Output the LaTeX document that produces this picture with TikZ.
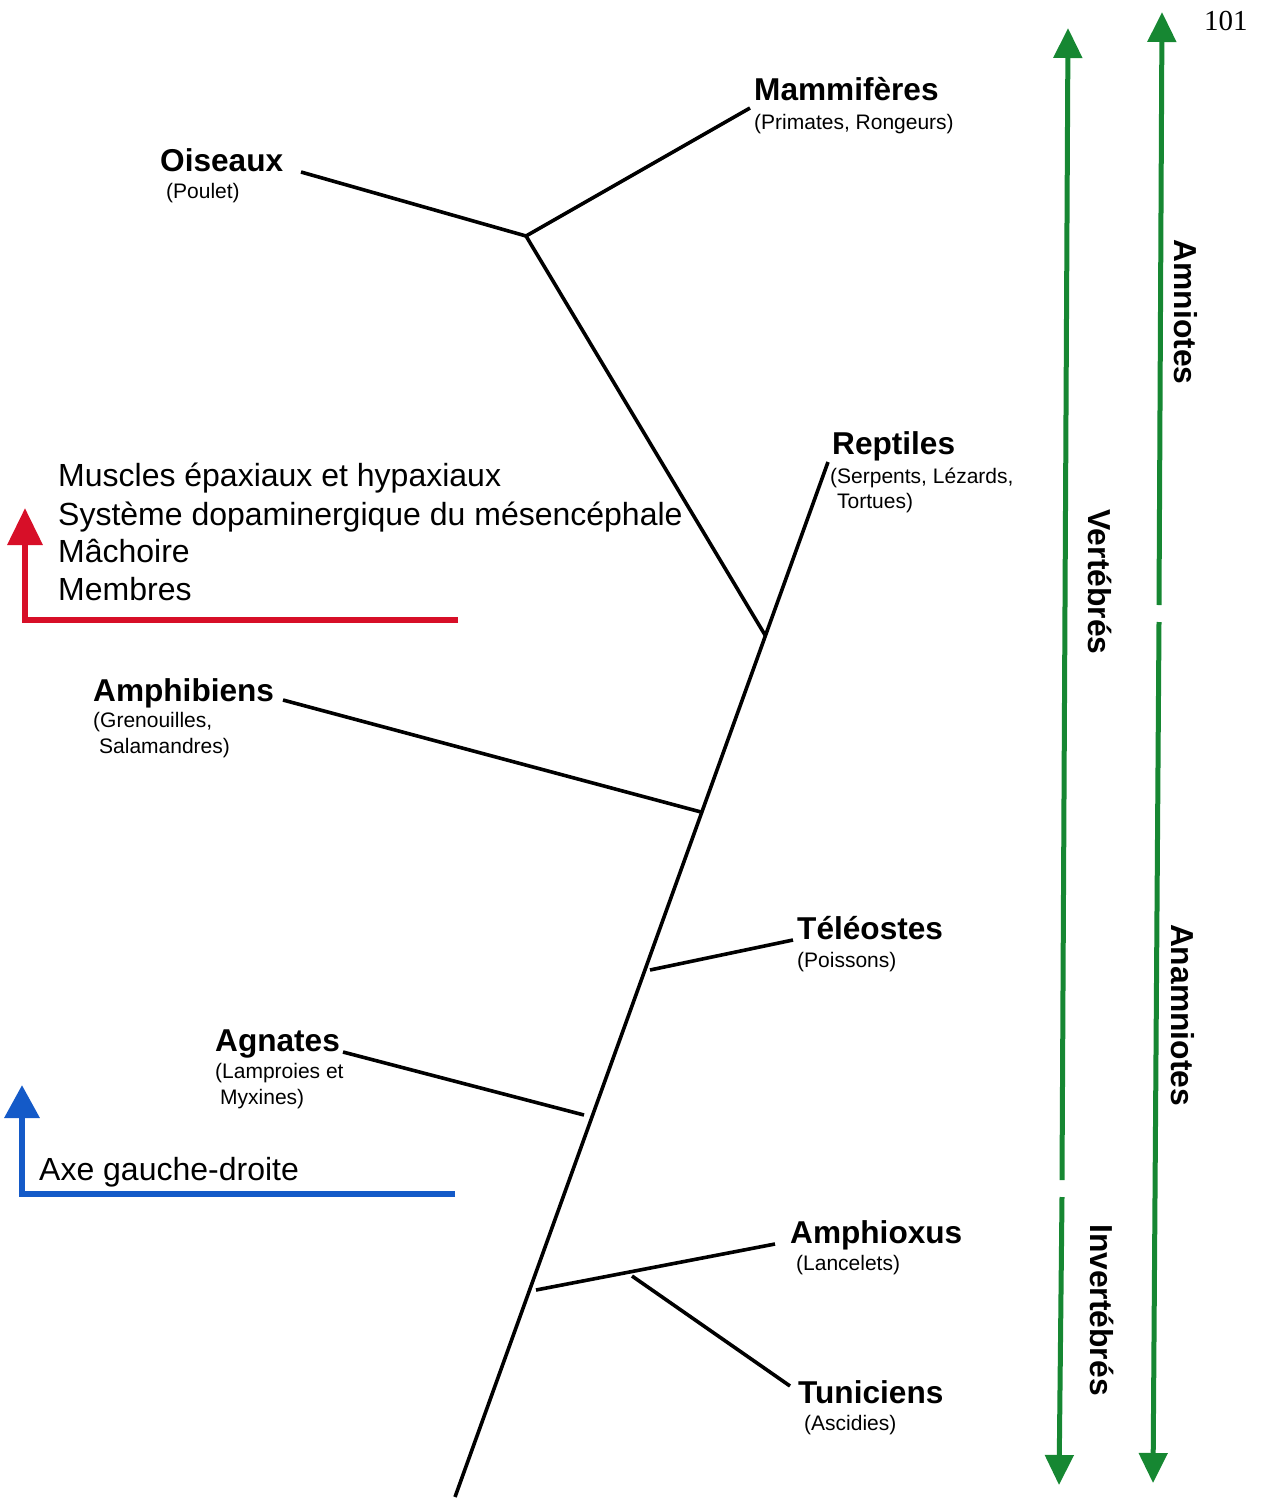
\documentclass[tikz,border=0pt]{standalone}
\usepackage{fontspec}
\setmainfont{Liberation Sans}
\newfontfamily\pagenumfont{Liberation Serif}
\usetikzlibrary{arrows.meta}
\definecolor{gr}{RGB}{22,135,50}
\definecolor{rd}{RGB}{215,15,40}
\definecolor{bl}{RGB}{20,90,200}
\begin{document}
\begin{tikzpicture}[x=1pt,y=-1pt,
  branch/.style={line width=3.6pt,black},
  taxon/.style={anchor=base west,inner sep=0pt,font=\fontsize{31.6}{36}\selectfont\bfseries},
  sub/.style={anchor=base west,inner sep=0pt,font=\fontsize{21}{26}\selectfont},
  trait/.style={anchor=base west,inner sep=0pt,font=\fontsize{32}{38}\selectfont},
  grp/.style={inner sep=0pt,rotate=-90,font=\fontsize{31.8}{36}\selectfont\bfseries},
  garrow/.style={line width=5pt,gr,-{Triangle[width=28pt,length=30pt]}},
]
\useasboundingbox (0,0) rectangle (1262,1501);
% tree coordinates
\coordinate (tb) at (455,1497);
\coordinate (tt) at (828,462);
\coordinate (j1) at (765,635);
\coordinate (j0) at (526,236);
\coordinate (ois) at (301,172);
\coordinate (mam) at (750,108);
\coordinate (amphA) at (283,700);
\coordinate (amphB) at (701,812);
\coordinate (telA) at (650,970);
\coordinate (telB) at (793,940);
\coordinate (agnA) at (343,1052);
\coordinate (agnB) at (584,1115);
\coordinate (aoxA) at (536,1290);
\coordinate (aoxB) at (775,1244);
\coordinate (tunA) at (632,1276);
\coordinate (tunB) at (790,1386);
% tree
\draw[branch] (tb) -- (tt);
\draw[branch] (j1) -- (j0);
\draw[branch] (ois) -- (j0) -- (mam);
\draw[branch] (amphA) -- (amphB);
\draw[branch] (telA) -- (telB);
\draw[branch] (agnA) -- (agnB);
\draw[branch] (aoxA) -- (aoxB);
\draw[branch] (tunA) -- (tunB);
% labels
\node[taxon] (lmam) at (754,101) {Mammifères};
\node[sub] (smam) at (754,129) {(Primates, Rongeurs)};
\node[taxon] (lois) at (160,171) {Oiseaux};
\node[sub] (sois) at (166,198) {(Poulet)};
\node[taxon] (lrep) at (832,454) {Reptiles};
\node[sub] (srep1) at (830,483) {(Serpents, Lézards,};
\node[sub] (srep2) at (837,508) {Tortues)};
\node[taxon] (lamp) at (93,701) {Amphibiens};
\node[sub] (samp1) at (93,727) {(Grenouilles,};
\node[sub] (samp2) at (99,753) {Salamandres)};
\node[taxon] (ltel) at (797,939) {Téléostes};
\node[sub] (stel) at (797,967) {(Poissons)};
\node[taxon] (lagn) at (215,1051) {Agnates};
\node[sub] (sagn1) at (215,1078) {(Lamproies et};
\node[sub] (sagn2) at (220,1104) {Myxines)};
\node[taxon] (laox) at (790,1243) {Amphioxus};
\node[sub] (saox) at (796,1270) {(Lancelets)};
\node[taxon] (ltun) at (798,1403) {Tuniciens};
\node[sub] (stun) at (804,1430) {(Ascidies)};
% red traits
\node[trait] (t1) at (58,486) {Muscles épaxiaux et hypaxiaux};
\node[trait] (t2) at (58,525) {Système dopaminergique du mésencéphale};
\node[trait] (t3) at (58,562) {Mâchoire};
\node[trait] (t4) at (58,600) {Membres};
\coordinate (rA) at (458,620);
\coordinate (rC) at (25,620);
\coordinate (rT) at (25,508);
\draw[line width=6.5pt,rd,-{Triangle[width=34pt,length=37pt]}] (rA) -- (rC) -- (rT);
% blue trait
\node[trait] (t5) at (39,1180) {Axe gauche-droite};
\coordinate (bA) at (455,1194);
\coordinate (bC) at (22,1194);
\coordinate (bT) at (22,1085);
\draw[line width=6.5pt,bl,-{Triangle[width=34pt,length=33pt]}] (bA) -- (bC) -- (bT);
% green arrows
\coordinate (g1top) at (1068,28);
\coordinate (g1m1) at (1062,1180);
\coordinate (g1m2) at (1062,1197);
\coordinate (g1bot) at (1059,1485);
\draw[garrow] (g1m1) -- (g1top);
\draw[garrow] (g1m2) -- (g1bot);
\coordinate (g2top) at (1162,12);
\coordinate (g2m1) at (1159,605);
\coordinate (g2m2) at (1159,622);
\coordinate (g2bot) at (1153,1483);
\draw[garrow] (g2m1) -- (g2top);
\draw[garrow] (g2m2) -- (g2bot);
\node[grp] (amn) at (1186,312) {Amniotes};
\node[grp] (ana) at (1183,1015) {Anamniotes};
\node[grp] (ver) at (1100,582) {Vertébrés};
\node[grp] (inv) at (1102,1310) {Invertébrés};
% page number
\node[anchor=base west,inner sep=0pt,font=\pagenumfont\fontsize{29}{34}\selectfont] (pg) at (1204,31) {101};
\end{tikzpicture}
\end{document}
